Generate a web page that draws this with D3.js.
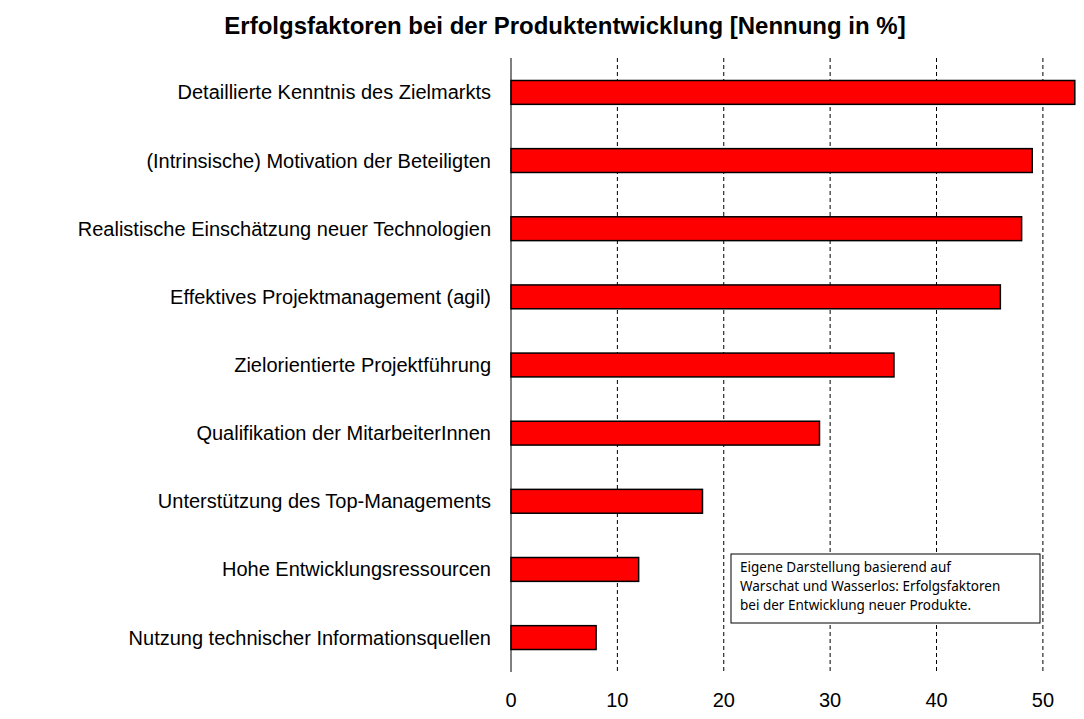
<html>
<head>
<meta charset="utf-8">
<script src="https://d3js.org/d3.v7.min.js"></script>
<style>
  body { margin: 0; background: #fff; }
</style>
</head>
<body>
<div id="chart"></div>
<script>
// chart data
var categories = ["Detaillierte Kenntnis des Zielmarkts", "(Intrinsische) Motivation der Beteiligten",
  "Realistische Einschätzung neuer Technologien", "Effektives Projektmanagement (agil)",
  "Zielorientierte Projektführung", "Qualifikation der MitarbeiterInnen",
  "Unterstützung des Top-Managements", "Hohe Entwicklungsressourcen",
  "Nutzung technischer Informationsquellen"];
var values = [53, 49, 48, 46, 36, 29, 18, 12, 8];
var ticks = [0, 10, 20, 30, 40, 50];
var noteLines = ["Eigene Darstellung basierend auf", "Warschat und Wasserlos: Erfolgsfaktoren", "bei der Entwicklung neuer Produkte."];

const width = 1084, height = 719;
const plotLeft = 511, plotRight = 1078, plotTop = 58, plotBottom = 672;

var svg = d3.select("#chart").append("svg")
  .attr("width", width).attr("height", height)
  .style("font-family", "Liberation Sans, Arial, sans-serif");

var x = d3.scaleLinear().domain([0, 53.3]).range([plotLeft, plotRight]);
var y = d3.scaleBand().domain(categories).range([plotTop, plotBottom]).paddingInner(0.65).paddingOuter(0.33);

// title
svg.append("text").attr("x", 565).attr("y", 34).attr("text-anchor", "middle")
  .style("font-size", "24px").style("font-weight", "bold")
  .text("Erfolgsfaktoren bei der Produktentwicklung [Nennung in %]");

// dashed grid
svg.selectAll(".grid").data(ticks.slice(1)).enter().append("line")
  .attr("x1", d => x(d)).attr("x2", d => x(d))
  .attr("y1", plotTop).attr("y2", plotBottom)
  .attr("stroke", "#000").attr("stroke-dasharray", "4,3").attr("stroke-width", 1);

// axis line
svg.append("line").attr("x1", plotLeft).attr("x2", plotLeft).attr("y1", plotTop).attr("y2", plotBottom)
  .attr("stroke", "#000");

// tick labels
svg.selectAll(".tick").data(ticks).enter().append("text")
  .attr("x", d => x(d)).attr("y", 707).attr("text-anchor", "middle")
  .style("font-size", "20px").text(d => d);

// bars
svg.selectAll(".bar").data(values).enter().append("rect")
  .attr("x", x(0)).attr("y", (d, i) => y(categories[i]))
  .attr("width", d => x(d) - x(0)).attr("height", y.bandwidth())
  .attr("fill", "#ff0000").attr("stroke", "#000").attr("stroke-width", 1.5);

// category labels
svg.selectAll(".lab").data(categories).enter().append("text")
  .attr("x", 491).attr("y", d => y(d) + y.bandwidth() / 2).attr("dy", "0.35em")
  .attr("text-anchor", "end").style("font-size", "20px").text(d => d);

// note box
svg.append("rect").attr("x", 731).attr("y", 554).attr("width", 309).attr("height", 69)
  .attr("fill", "#fff").attr("stroke", "#000");
svg.selectAll(".note").data(noteLines).enter().append("text")
  .attr("x", 740).attr("y", (d, i) => 572 + i * 19)
  .style("font-size", "13.5px").style("font-family", "Noto Sans, sans-serif").text(d => d);
</script>
</body>
</html>
